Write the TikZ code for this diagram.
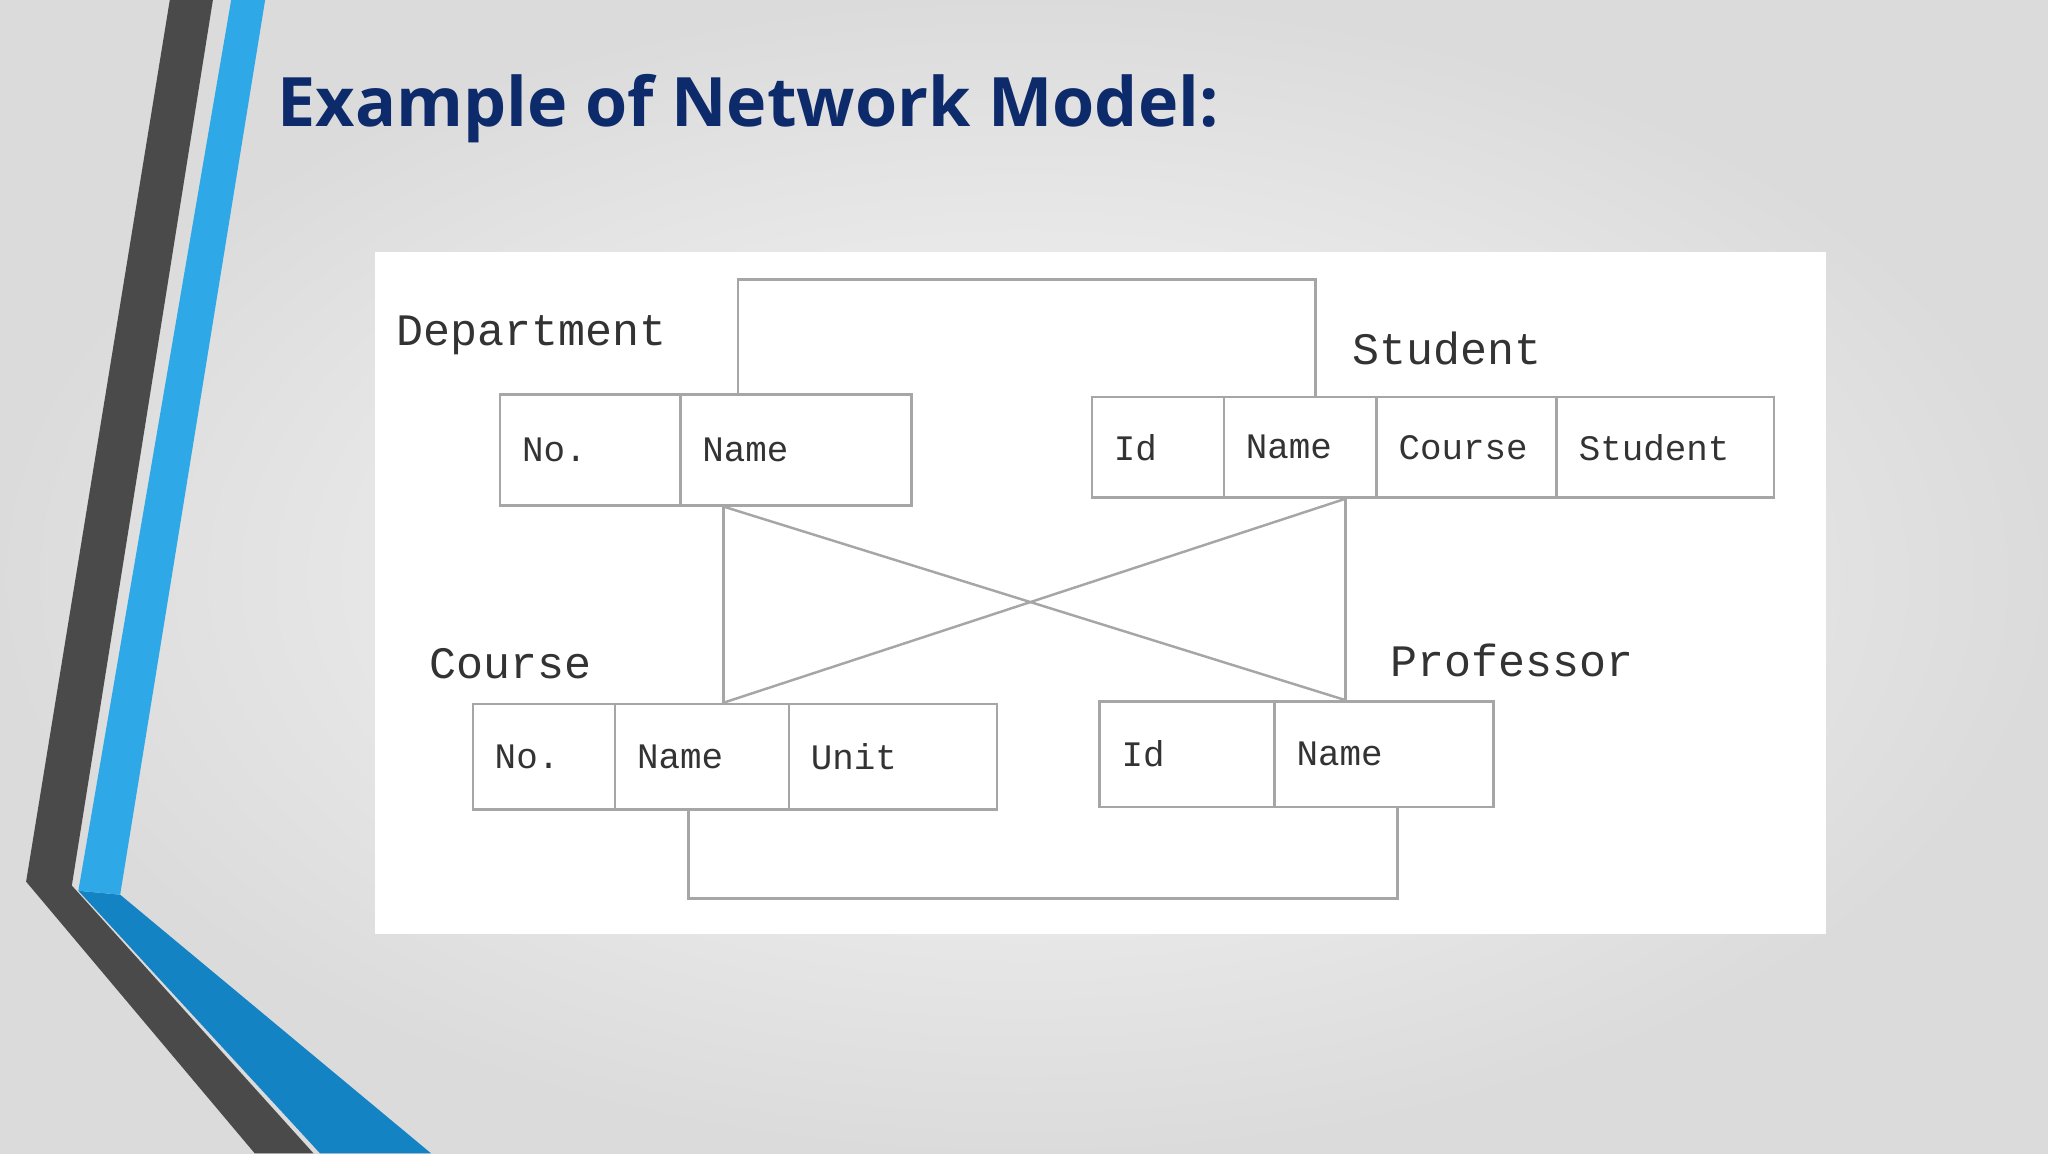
\documentclass[tikz,border=0pt]{standalone}
\usepackage{fontspec}
\setmainfont{Open Sans}
\newfontfamily\monofam{Liberation Mono}
\definecolor{navy}{HTML}{0D2A6B}
\definecolor{sky}{HTML}{2EA8E6}
\definecolor{deepsky}{HTML}{1483C4}
\definecolor{slate}{HTML}{4A4A4A}
\definecolor{ink}{HTML}{333333}
\tikzset{
  cell/.style={draw=gray!70, line width=0.7pt, anchor=north west, inner xsep=0.22cm,
    align=left, font=\monofam\fontsize{10.2}{12}\selectfont, text=ink},
  tag/.style={anchor=west, inner sep=0, font=\monofam\fontsize{12.8}{14}\selectfont, text=ink},
  link/.style={draw=gray!70, line width=0.7pt}
}
\begin{document}
\begin{tikzpicture}[x=0.013061cm, y=-0.013061cm]
  \useasboundingbox (0,0) rectangle (1568,883);
  \shade[inner color=gray!4, outer color=gray!28] (0,0) rectangle (1568,883);
  % side bands
  \fill[slate] (130,0) -- (163,0) -- (55,678) -- (240,883) -- (195,883) -- (20,675) -- cycle;
  \fill[deepsky] (60,682) -- (92,685) -- (330,883) -- (245,883) -- cycle;
  \fill[sky] (177,0) -- (203,0) -- (92,685) -- (60,682) -- cycle;
  \node[anchor=base west, inner sep=0, text=navy, font=\bfseries\fontsize{19.4}{22}\selectfont]
    (title) at (212,97) {Example of Network Model:};
  \fill[white] (287,193) rectangle (1398,715);

  % Department
  \node[tag] (dlab) at (303,257) {Department};
  \node[cell, text width=1.36cm, minimum height=1.11cm] (dno) at (382,301) {No.};
  \node[cell, text width=1.87cm, minimum height=1.11cm] (dname) at (520,301) {Name};

  % Student
  \node[tag] (slab) at (1035,267) {Student};
  \node[cell, text width=0.88cm, minimum height=1.006cm] (sid) at (835,303) {Id};
  \node[cell, text width=1.09cm, minimum height=1.006cm] (sname) at (936,303) {Name};
  \node[cell, text width=1.36cm, minimum height=1.006cm] (scourse) at (1053,303) {Course};
  \node[cell, text width=1.73cm, minimum height=1.006cm] (sstud) at (1191,303) {Student};

  % Course
  \node[tag] (clab) at (328,508) {Course};
  \node[cell, text width=0.98cm, minimum height=1.058cm] (cno) at (361,538) {No.};
  \node[cell, text width=1.30cm, minimum height=1.058cm] (cname) at (470,538) {Name};
  \node[cell, text width=1.64cm, minimum height=1.058cm] (cunit) at (603,538) {Unit};

  % Professor
  \node[tag] (plab) at (1064,506) {Professor};
  \node[cell, text width=1.31cm, minimum height=1.058cm] (pid) at (841,536) {Id};
  \node[cell, text width=1.75cm, minimum height=1.058cm] (pname) at (975,536) {Name};

  % links
  \coordinate (t1) at (565,214);
  \coordinate (t2) at (1007,214);
  \coordinate (b1) at (527,688);
  \coordinate (b2) at (1070,688);
  \coordinate (v1) at (554,0);
  \coordinate (v2) at (1030,0);
  \draw[link] (dname.north -| t1) -- (t1) -- (t2) -- (sname.north -| t2);
  \draw[link] (cname.south -| b1) -- (b1) -- (b2) -- (pname.south -| b2);
  \draw[link] (dname.south -| v1) -- (cname.north -| v1);
  \draw[link] (sname.south -| v2) -- (pname.north -| v2);
  \draw[link] (dname.south -| v1) -- (pname.north -| v2);
  \draw[link] (sname.south -| v2) -- (cname.north -| v1);
\end{tikzpicture}
\end{document}
